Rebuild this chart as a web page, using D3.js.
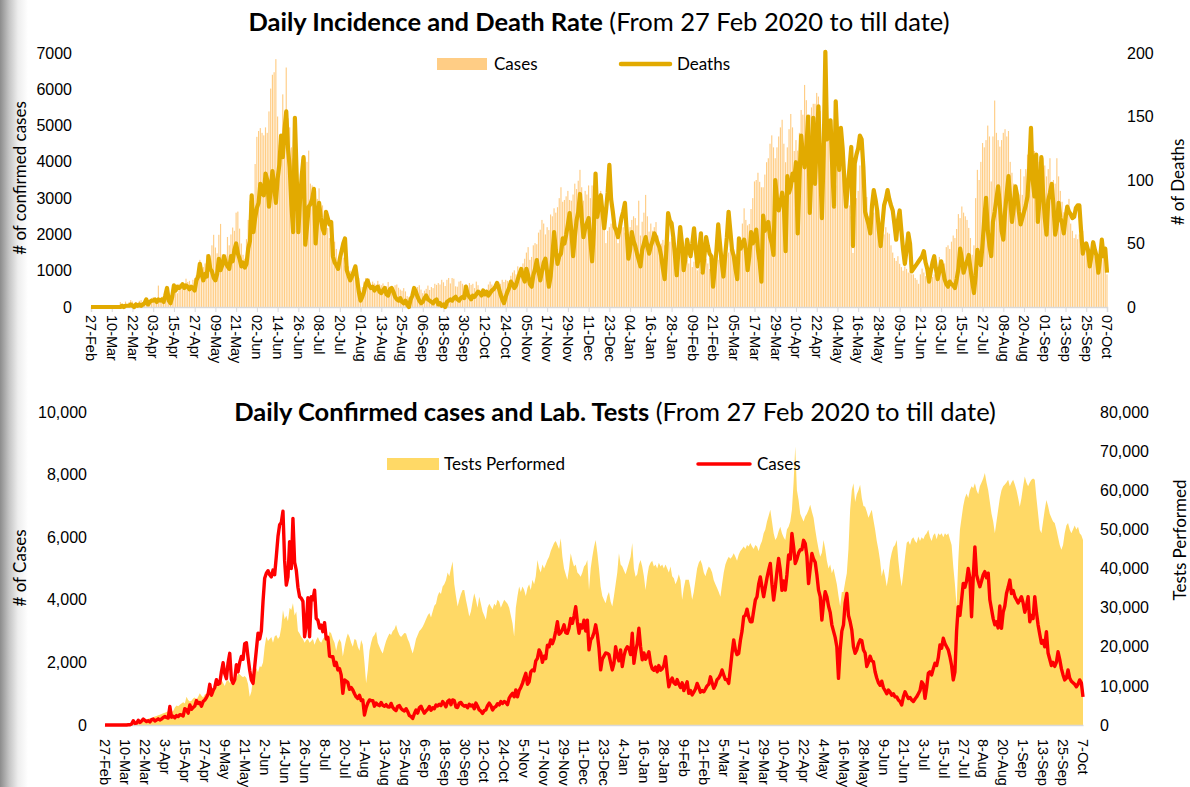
<!DOCTYPE html>
<html>
<head>
<meta charset="utf-8">
<script src="https://cdn.jsdelivr.net/npm/d3@7"></script>
<style>
  body { margin: 0; background: #fff; }
  #shade { position: absolute; left: 0; top: 0; width: 28px; height: 787px;
    background: linear-gradient(to right, #8c8c8c 0px, #c4c4c4 9px, #ededed 18px, #fff 28px); }
  svg { position: absolute; left: 0; top: 0; font-family: Lato, "Open Sans", sans-serif; }
</style>
</head>
<body>
<div id="shade"></div>
<svg id="chart" width="1190" height="787"></svg>
<script>
// daily series, one value per day from 27 Feb 2020 to 07 Oct 2021 (12 days per row)
var cases = [
  2,0,0,1,0,0,0,1,0,0,0,1,
  3,0,8,5,33,136,50,60,150,80,130,190,
  150,110,140,100,170,190,130,160,200,160,190,240,
  270,240,220,590,250,280,230,300,270,330,320,290,
  520,490,380,640,500,560,610,780,690,720,600,750,
  800,880,990,1300,950,1100,1200,1450,1300,1330,1700,1990,
  1640,1480,1990,2290,1450,1330,1450,1930,1700,2000,2190,2100,
  2600,2630,2160,1750,1440,1330,1870,2400,2930,2750,3010,3940,
  4690,4850,4930,4800,4730,4950,4800,5390,6020,6400,6470,6830,
  5250,4470,4730,5860,5000,6600,5200,4950,4400,4100,4050,3950,
  2820,3200,4070,2820,4100,4000,4310,3400,3350,3100,3190,2980,
  3270,2750,2800,2200,2180,2180,1900,2000,1760,1800,1600,1010,
  1440,1400,1360,1140,1200,1120,1000,900,850,950,780,800,
  320,550,700,800,780,780,600,700,650,620,720,630,
  600,650,580,570,690,560,500,460,600,620,530,480,
  450,520,430,300,270,210,360,480,380,550,600,480,
  380,450,500,590,470,550,520,640,610,660,620,750,
  680,580,750,800,650,800,780,570,560,700,720,640,
  600,620,550,660,610,640,520,700,600,480,440,370,
  460,480,620,700,620,480,560,590,680,640,750,690,
  750,720,650,860,950,1010,900,1120,900,1100,1200,1330,
  1500,1650,1300,1380,1700,1760,1730,2050,2130,2400,2300,2000,
  2200,2120,2550,2500,2720,2600,2750,3000,3300,2900,2950,3050,
  3200,2950,2930,3100,3400,3250,3480,3780,3300,2930,3200,3100,
  3350,3000,3350,2400,2720,2800,2950,3200,2900,2450,1760,2100,
  2200,2300,2290,2250,2000,1760,1970,2500,2200,2050,2400,1870,
  2200,2400,2500,2450,2250,2930,1970,2350,2600,3090,2500,2080,
  2300,2100,2200,2340,1970,1800,1750,1850,1700,1900,1750,1800,
  1900,2180,1650,1220,1400,1500,1350,1300,1450,1300,1200,1350,
  1100,1250,1380,1010,1100,960,1050,1150,1330,1200,1050,1100,
  1060,1150,1250,1300,1540,1350,1170,1280,1450,1500,1600,1760,
  1600,1450,1450,1330,1800,2300,2720,2400,2250,2290,2700,3000,
  3460,3500,3700,3450,3300,3300,3650,3990,4100,4500,4730,4400,
  4100,4400,4700,4950,5160,4500,3990,4400,4900,5320,4950,4300,
  4600,4310,4800,5430,5300,6120,5700,5160,5300,5500,5600,5600,
  5900,5800,5400,4520,5000,5480,5300,5200,4800,4310,4100,3350,
  3900,4260,4100,3800,3600,3200,3000,2800,2500,1490,2400,3000,
  3200,3900,4200,3500,3300,3030,2500,2290,2400,2600,2720,2700,
  2400,2300,1870,2000,2200,2050,2020,1700,1500,1350,1270,1400,
  1190,1100,1000,1120,1050,950,1000,900,900,800,750,640,
  900,1060,950,850,880,800,750,830,900,1000,1100,1380,
  1300,850,1200,1650,1700,1600,1800,1970,1900,2150,2560,2450,
  2770,2600,2500,2400,2180,1900,1440,1700,3000,3780,3500,4000,
  4520,4400,4600,5000,4700,3460,4700,5690,4800,4600,4420,4600,
  4800,4900,4700,4850,4000,3700,3400,3200,3300,3100,3800,3090,
  3600,3800,4200,4400,4630,4200,4300,4100,4000,3900,4000,4100,
  3900,3600,3800,4100,3300,3500,3400,4100,3600,3200,2900,2610,
  2700,2500,2980,2300,2100,1900,2000,1870,2000,2340,2100,1800,
  1600,1440,1500,1760,1500,1400,1350,1300,1220,1300,1440,1350,
  900
];

var deaths = [
  0,0,0,0,0,0,0,0,0,0,0,0,
  0,0,0,0,0,0,1,0,1,1,1,2,
  1,0,2,1,2,1,2,3,6,2,4,5,
  5,6,4,6,5,6,4,9,15,5,3,8,
  17,13,16,15,16,18,15,17,16,14,16,15,
  13,21,24,34,26,21,26,24,40,30,28,23,
  21,26,38,29,33,40,35,32,30,40,36,45,
  50,42,38,32,35,31,34,46,52,88,59,70,
  78,82,97,90,88,105,100,79,92,107,95,82,
  101,112,135,118,140,154,125,110,80,59,149,105,
  59,85,104,118,49,63,79,81,85,93,50,70,
  82,70,62,58,75,70,65,67,40,35,33,30,
  38,44,50,54,29,25,21,24,28,32,22,12,
  5,8,12,18,21,17,15,16,13,15,16,12,
  11,13,15,10,9,14,15,12,8,6,5,7,
  4,3,5,2,0,6,9,15,12,8,5,3,
  4,7,9,6,5,4,3,5,6,2,3,1,
  2,0,4,5,6,5,7,8,6,5,7,8,
  7,16,10,8,6,9,8,10,12,11,9,13,
  10,12,9,11,13,14,16,19,15,10,6,3,
  8,12,15,20,18,15,17,22,26,30,24,20,
  30,25,18,16,25,30,37,28,21,28,35,38,
  27,16,24,40,59,45,34,40,42,54,50,57,
  65,74,60,40,55,68,75,89,70,55,62,66,
  70,52,36,60,105,71,80,88,75,62,75,90,
  112,85,75,63,60,55,62,70,75,82,60,38,
  45,59,52,48,42,37,32,45,50,55,48,42,
  48,52,58,55,50,47,40,30,22,45,74,68,
  66,55,40,25,45,63,50,29,38,53,45,40,
  50,62,45,32,45,58,27,40,55,48,42,40,
  16,30,45,65,50,35,24,40,55,75,60,45,
  40,30,22,54,46,50,53,45,29,40,59,50,
  55,61,45,35,20,72,60,65,67,55,50,41,
  100,85,76,82,90,80,44,103,90,95,105,100,
  114,58,100,135,120,110,125,150,74,110,149,97,
  130,158,110,70,120,201,132,140,147,110,79,162,
  130,108,141,125,100,79,95,110,126,48,113,120,
  125,135,132,110,75,70,65,58,80,92,85,76,
  60,48,65,80,85,92,85,80,76,65,53,68,
  76,60,45,34,45,58,50,28,30,32,34,36,
  38,40,44,35,30,20,28,35,40,30,22,28,
  36,30,22,18,16,20,18,17,15,22,30,46,
  38,27,32,36,41,30,20,11,25,45,38,33,
  50,70,86,60,48,40,67,75,85,95,80,60,
  53,75,90,103,85,67,78,95,88,75,65,70,
  75,80,87,110,141,100,87,120,67,85,118,90,
  70,57,84,90,97,80,57,65,82,70,66,58,
  70,79,75,73,70,71,78,80,80,60,42,48,
  50,45,32,40,51,45,40,27,38,53,40,46,
  27
];

var tests = [
  100,120,150,150,200,180,200,220,250,230,280,300,
  300,350,400,450,500,600,700,800,900,1000,1100,1300,
  1400,1500,1600,1800,1700,2000,2200,2300,2500,2600,2800,3000,
  3100,3300,3500,3700,3300,3600,4500,5000,4800,5200,5500,5800,
  5500,7250,6400,6000,6200,6800,7000,6500,7200,8100,7500,7000,
  7800,8100,7600,8500,9000,8800,9800,10500,10000,11000,11500,10800,
  10000,11200,11500,10800,11000,12000,12500,11800,13200,13000,12500,12200,
  12500,12000,10500,7250,8500,12000,14000,14500,13500,15000,14800,16000,
  20000,22600,21500,22000,22500,21000,22600,23000,22000,22600,25000,29400,
  27000,28000,26500,30000,29400,31100,28000,29000,24000,23400,22500,22000,
  21000,21700,22000,21000,21500,22000,20500,21700,22500,21500,21000,22000,
  22500,23400,22000,23900,23400,22000,21000,19000,21000,22000,21000,17500,
  20000,22000,23400,22500,21000,20000,22000,21700,20000,19000,21700,20500,
  16000,10700,14000,19000,21000,22500,23000,23900,21000,20000,19000,18300,
  20000,21500,22500,23400,23000,24000,24500,25600,24000,23000,22500,23000,
  23500,23400,22000,21000,19500,18300,20000,22000,23000,24000,24500,25100,
  26000,27000,28000,28600,27500,29000,30500,31000,33000,34000,33500,35400,
  36000,37000,39000,38000,40000,41800,36000,33000,30300,32000,33500,34500,
  34500,32000,30000,27700,29000,31500,33700,32000,30000,32800,31000,29000,
  28000,26900,30000,31000,30300,29500,31000,30500,32000,31500,30000,31000,
  32000,31500,31000,30000,28000,26000,22600,30000,33000,35400,34000,35400,
  34500,33000,35000,36000,34500,37100,36000,38000,42200,40000,39000,41000,
  40000,41000,42200,43000,44500,45500,46500,47000,46000,45000,47700,43000,
  40000,38500,37100,40000,43900,42000,40500,41000,39000,38500,37900,39000,
  40500,41000,42200,34500,40000,43000,45500,47300,44000,40000,35400,33000,
  32000,31100,33000,34000,31500,30300,33000,36000,39000,43900,41000,40500,
  39500,38500,40000,41500,43000,46500,40000,37900,38500,41000,42200,40500,
  38000,34500,38000,40500,41500,42000,40500,41000,40000,41500,40500,41000,
  40000,41000,40000,39000,40500,38000,37500,36000,37000,38500,37000,32000,
  35000,37100,37100,37100,35000,32000,34000,37000,40000,41500,42200,41000,
  39000,38000,39500,40500,40000,39000,37000,36000,35000,34000,32800,36000,
  39000,41000,42200,43000,42500,43000,43900,43000,42000,43500,44500,45000,
  45600,45000,46000,45600,46500,45600,45000,46000,45600,44500,46000,47000,
  49000,50000,52000,53500,55000,52000,49000,47300,48000,49500,50700,49000,
  48000,47300,50000,50700,52000,55000,62000,71200,60000,57500,54000,53000,
  52000,53300,54000,55000,56300,54500,53000,50000,47300,45000,43000,44000,
  47300,45000,42000,40000,41000,38800,40000,38000,36000,33000,30300,34000,
  34000,36500,38800,45000,55000,60000,61800,57000,59000,60000,61400,58000,
  56000,55800,54500,53000,54000,55000,52400,50000,47000,44800,42000,38000,
  40000,38000,35400,38000,42000,44000,45500,46000,47300,42000,38000,35400,
  39000,43000,46500,47000,46000,47500,48000,47000,46500,48200,47000,48000,
  47500,48500,49000,49900,48000,47000,48500,49000,47500,49000,48500,49000,
  48000,49000,48500,49000,47500,46000,40500,36000,30300,42000,49900,53000,
  56000,58000,59200,58000,60000,61000,60500,61800,60000,59000,61000,62000,
  63000,64400,62000,60000,57000,54000,52000,49000,52000,55000,58000,60000,
  61000,61500,62000,62700,61000,62000,62700,61500,60000,58000,55800,58000,
  61000,63500,62000,61000,62000,62700,63000,62700,58000,54000,50000,49000,
  52000,55000,57500,56000,54000,53000,52000,51600,50000,48000,46000,44800,
  46000,49000,51000,51600,50000,49000,50000,51000,50000,50700,49000,48500,
  47300
];

var startDate = new Date(2020, 1, 27);
var tickStep = 12;   // one date label every 12 days
var casesTicks1 = [0, 1000, 2000, 3000, 4000, 5000, 6000, 7000];
var deathTicks = [0, 50, 100, 150, 200];
var casesTicks2 = [0, 2000, 4000, 6000, 8000, 10000];
var testTicks = [0, 10000, 20000, 30000, 40000, 50000, 60000, 70000, 80000];

var days = cases.map(function(d, i) { return d3.timeDay.offset(startDate, i); });
var endDate = days[days.length - 1];
var tickDates = d3.range(0, days.length, tickStep).map(function(i) { return days[i]; });

var svg = d3.select("#chart");

//--- top chart: daily incidence and deaths ------------------------------
var x1 = d3.scaleTime().domain([startDate, endDate]).range([91, 1107]);
var y1 = d3.scaleLinear().domain([0, 7000]).range([307, 53]);
var yd = d3.scaleLinear().domain([0, 200]).range([307, 53]);

var upper = svg.append("g");

upper.append("g").selectAll("rect")
    .data(cases)
    .enter().append("rect")
    .attr("x", function(d, i) { return x1(days[i]) - 0.6; })
    .attr("y", function(d) { return y1(d); })
    .attr("width", 1.15)
    .attr("height", function(d) { return 307 - y1(d); })
    .attr("fill", "#FFCD85");

upper.append("g")
    .attr("transform", "translate(0,307)")
    .call(d3.axisBottom(x1).tickValues(tickDates).tickFormat(d3.timeFormat("%d-%b")).tickSize(5))
    .call(styleXAxis, 8);

upper.append("path")
    .datum(deaths)
    .attr("fill", "none")
    .attr("stroke", "#E2AA00")
    .attr("stroke-width", 4.2)
    .attr("stroke-linejoin", "round")
    .attr("d", d3.line().x(function(d, i) { return x1(days[i]); }).y(function(d) { return yd(d); }));

upper.append("g")
    .attr("transform", "translate(91,0)")
    .call(d3.axisLeft(y1).tickValues(casesTicks1).tickFormat(d3.format("d")).tickSize(0).tickPadding(19))
    .call(styleYAxis);

upper.append("g")
    .attr("transform", "translate(1107,0)")
    .call(d3.axisRight(yd).tickValues(deathTicks).tickSize(0).tickPadding(20))
    .call(styleYAxis);

title(upper, 599, 31, "Daily Incidence and Death Rate", " (From 27 Feb 2020 to till date)");
yTitle(upper, 20, 178, "# of confirmed cases");
yTitle(upper, 1178, 182, "# of Deaths");

upper.append("rect").attr("x", 437).attr("y", 58).attr("width", 50).attr("height", 12).attr("fill", "#FFCD85");
legendText(upper, 494, 64, "Cases");
upper.append("line").attr("x1", 621).attr("x2", 670).attr("y1", 64).attr("y2", 64)
    .attr("stroke", "#E2AA00").attr("stroke-width", 4.5).attr("stroke-linecap", "round");
legendText(upper, 677, 64, "Deaths");

//--- bottom chart: confirmed cases and lab tests ------------------------
var x2 = d3.scaleTime().domain([startDate, endDate]).range([105, 1083]);
var y2 = d3.scaleLinear().domain([0, 10000]).range([725, 412]);
var yt = d3.scaleLinear().domain([0, 80000]).range([725, 412]);

var lower = svg.append("g");

lower.append("path")
    .datum(tests)
    .attr("fill", "#FFD966")
    .attr("d", d3.area()
        .x(function(d, i) { return x2(days[i]); })
        .y0(725)
        .y1(function(d) { return yt(d); }));

lower.append("g")
    .attr("transform", "translate(0,725)")
    .call(d3.axisBottom(x2).tickValues(tickDates).tickFormat(d3.timeFormat("%-d-%b")).tickSize(0))
    .call(styleXAxis, 14);

lower.append("path")
    .datum(cases)
    .attr("fill", "none")
    .attr("stroke", "#FF0000")
    .attr("stroke-width", 3.4)
    .attr("stroke-linejoin", "round")
    .attr("d", d3.line().x(function(d, i) { return x2(days[i]); }).y(function(d) { return y2(d); }));

lower.append("g")
    .attr("transform", "translate(105,0)")
    .call(d3.axisLeft(y2).tickValues(casesTicks2).tickFormat(d3.format(",")).tickSize(0).tickPadding(18))
    .call(styleYAxis);

lower.append("g")
    .attr("transform", "translate(1083,0)")
    .call(d3.axisRight(yt).tickValues(testTicks).tickFormat(d3.format(",")).tickSize(0).tickPadding(17))
    .call(styleYAxis);

title(lower, 615, 421, "Daily Confirmed cases and Lab. Tests", " (From 27 Feb 2020 to till date)");
yTitle(lower, 20, 568, "# of Cases");
yTitle(lower, 1180, 540, "Tests Performed");

lower.append("rect").attr("x", 387).attr("y", 458).attr("width", 52).attr("height", 12).attr("fill", "#FFD966");
legendText(lower, 444, 464, "Tests Performed");
lower.append("line").attr("x1", 698).attr("x2", 750).attr("y1", 464).attr("y2", 464)
    .attr("stroke", "#FF0000").attr("stroke-width", 3.5).attr("stroke-linecap", "round");
legendText(lower, 757, 464, "Cases");

//--- helpers -------------------------------------------------------------
function styleXAxis(g, gap) {
    g.select(".domain").attr("stroke", "#D9D9D9").attr("stroke-width", 1.5);
    g.selectAll(".tick line").attr("stroke", "#D9D9D9");
    g.selectAll(".tick text")
        .attr("transform", "rotate(90)")
        .attr("x", gap)
        .attr("y", 0)
        .attr("dy", "0.36em")
        .style("text-anchor", "start")
        .attr("fill", "#000")
        .style("font-size", "14.5px");
}

function styleYAxis(g) {
    g.select(".domain").remove();
    g.selectAll(".tick text").attr("fill", "#000").style("font-size", "16px");
}

function title(g, x, y, boldPart, rest) {
    var t = g.append("text").attr("x", x).attr("y", y)
        .attr("text-anchor", "middle").style("font-size", "25.5px").attr("fill", "#000");
    t.append("tspan").style("font-weight", "bold").text(boldPart);
    t.append("tspan").text(rest);
}

function yTitle(g, x, y, label) {
    g.append("text")
        .attr("transform", "translate(" + x + "," + y + ") rotate(-90)")
        .attr("text-anchor", "middle")
        .attr("dy", "0.35em")
        .style("font-size", "17px")
        .attr("fill", "#000")
        .text(label);
}

function legendText(g, x, y, label) {
    g.append("text").attr("x", x).attr("y", y).attr("dy", "0.35em")
        .style("font-size", "17px").attr("fill", "#000").text(label);
}
</script>
</body>
</html>
